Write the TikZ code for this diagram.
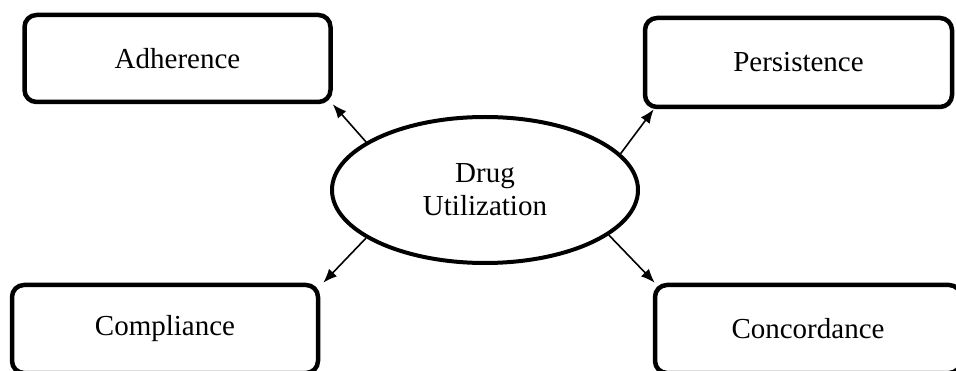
\documentclass[tikz,border=0pt]{standalone}
\usepackage{fontspec}
\setmainfont{Liberation Serif}
\usetikzlibrary{shapes.geometric,arrows.meta}
\begin{document}
\begin{tikzpicture}[x=1pt,y=-1pt,
  termbox/.style={draw,line width=4.5pt,rounded corners=12pt,minimum width=306pt,minimum height=87pt,inner sep=0pt,font=\fontsize{29}{33}\selectfont},
  centreell/.style={draw,ellipse,line width=4pt,minimum width=306pt,minimum height=146pt,inner sep=0pt,align=center,font=\fontsize{29}{33}\selectfont},
  link/.style={line width=1.6pt,-{Latex[length=14pt,width=11pt]}}]
\useasboundingbox (0,0) rectangle (956,371);
\node[termbox] (adh) at (177.5,58.5) {Adherence};
\node[termbox,minimum width=307pt,minimum height=89pt] (per) at (798.5,62.5) {Persistence};
\node[termbox,minimum height=88pt] (com) at (165,329) {Compliance};
\node[termbox,minimum height=88pt] (con) at (808,329) {Concordance};
\node[centreell] (drug) at (485,190) {Drug\\Utilization};
\coordinate (pertip) at ([xshift=11pt]per.south west);
\draw[link] (drug.158) -- (adh.south east);
\draw[link] (drug.15) -- (pertip);
\draw[link] (drug.202) -- ([xshift=3pt]com.north east);
\draw[link] (drug.340) -- ([xshift=2pt]con.north west);
\end{tikzpicture}
\end{document}
